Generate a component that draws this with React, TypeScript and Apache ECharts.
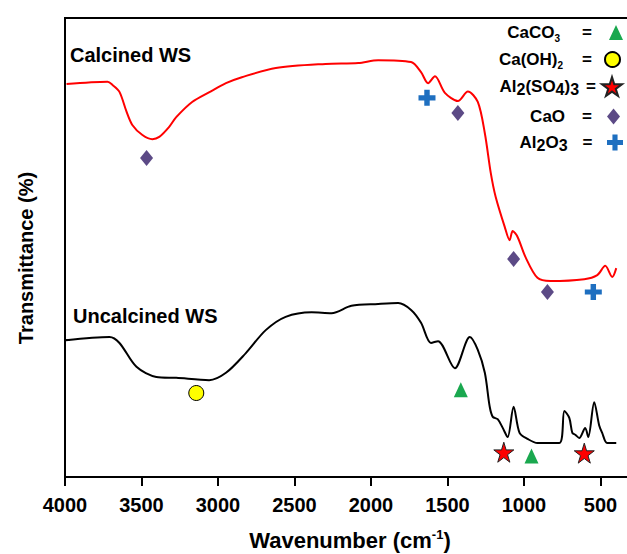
import React, { useEffect, useRef } from 'react';
import * as echarts from 'echarts';

// Calcined WS (red) spectrum
const calcinedWavenumber = [3990, 3722, 3689, 3644, 3599, 3560, 3494, 3429, 3384, 3319, 3273, 3169, 3059, 2948, 2844, 2622, 2297, 2083, 1953, 1738, 1673, 1627, 1582, 1517, 1432, 1367, 1302, 1256, 1217, 1185, 1126, 1094, 1074, 1042, 990, 912, 827, 606, 521, 469, 423, 397];
const calcinedT = [85.6, 86.1, 85.4, 83.9, 79.7, 76.7, 74.5, 73.6, 74.1, 76.3, 78.4, 81.7, 83.8, 85.8, 87.1, 89.1, 90.0, 90.2, 90.8, 90.4, 88.2, 85.8, 87.3, 83.7, 81.9, 84.0, 81.7, 74.9, 66.2, 61.0, 54.5, 51.6, 53.6, 52.3, 47.9, 43.4, 42.7, 43.1, 44.0, 46.0, 43.6, 45.5];

// Uncalcined WS (black) spectrum
const uncalcinedWavenumber = [3995, 3709, 3644, 3533, 3403, 3273, 3058, 2948, 2818, 2688, 2558, 2388, 2258, 2128, 1953, 1822, 1738, 1673, 1608, 1562, 1452, 1354, 1302, 1256, 1224, 1204, 1172, 1139, 1107, 1068, 1029, 977, 912, 769, 736, 704, 684, 665, 639, 600, 580, 541, 509, 489, 457, 397];
const uncalcinedT = [29.8, 30.5, 29.2, 24.0, 21.8, 21.6, 21.1, 22.7, 27.0, 32.0, 34.9, 35.9, 35.7, 37.3, 37.7, 37.9, 36.4, 33.6, 29.2, 29.6, 23.7, 30.5, 27.7, 22.7, 15.3, 13.1, 12.6, 10.7, 8.7, 15.3, 9.6, 8.3, 7.4, 7.4, 14.4, 12.9, 9.6, 9.2, 8.5, 10.7, 8.7, 16.3, 11.3, 9.6, 7.4, 7.4];

// Peak assignment markers
const caco3Points = [[1413, 19.0], [951, 4.6]];
const caoh2Points = [[3142, 18.3]];
const al2so43Points = [[1132, 5.4], [606, 5.2]];
const caoPoints = [[3467, 69.5], [1432, 79.3], [1068, 47.5], [847, 40.3]];
const al2o3Points = [[1634, 82.6], [547, 40.3]];

const xTicks = [4000, 3500, 3000, 2500, 2000, 1500, 1000, 500];

const FONT = '"Liberation Sans", Arial, Helvetica, sans-serif';
const STAR = 'path://M50,0 L61,35 L98,35 L68,57 L79,91 L50,70 L21,91 L32,57 L2,35 L39,35 Z';
const PLUS = 'path://M34,0 H66 V34 H100 V66 H66 V100 H34 V66 H0 V34 H34 Z';

const zip = (xs: number[], ys: number[]) => xs.map((x, i) => [x, ys[i]]);

const legendRich = (padL: number, padR: number) => ({
  t: { fontSize: 17, fontWeight: 'bold', fontFamily: FONT, color: '#000', lineHeight: 22 },
  s: { fontSize: 10, fontWeight: 'bold', fontFamily: FONT, color: '#000', lineHeight: 4, verticalAlign: 'bottom' },
  b: { fontSize: 16, fontWeight: 'bold', fontFamily: FONT, color: '#000', lineHeight: 6, verticalAlign: 'bottom' },
  e: { fontSize: 17, fontWeight: 'bold', fontFamily: FONT, color: '#000', lineHeight: 22, padding: [0, padR, 0, padL] },
});

const makeLegend = (name: string, text: string, padL: number, padR: number, right: number, top: number, w: number, h: number) => ({
  data: [name],
  orient: 'vertical',
  align: 'right',
  right,
  top,
  padding: 0,
  itemWidth: w,
  itemHeight: h,
  itemGap: 0,
  selectedMode: false,
  formatter: () => text,
  textStyle: { rich: legendRich(padL, padR) },
});

export default function App() {
  const ref = useRef<HTMLDivElement>(null);
  useEffect(() => {
    if (!ref.current) return;
    const chart = echarts.init(ref.current, undefined, { renderer: 'svg' });
    const option: any = {
      animation: false,
      grid: { left: 65, top: 18, right: 0, bottom: 77, show: true, borderColor: '#000', borderWidth: 2 },
      xAxis: {
        type: 'value',
        min: 0,
        max: 4000,
        interval: 500,
        inverse: true,
        axisLine: { lineStyle: { color: '#000', width: 2 } },
        axisTick: { length: 9, lineStyle: { color: '#000', width: 2 } },
        axisLabel: {
          color: '#000', fontSize: 20, fontWeight: 'bold', fontFamily: FONT, margin: 18,
          formatter: (v: number) => (xTicks.includes(v) ? String(v) : ''),
        },
        splitLine: { show: false },
      },
      yAxis: {
        type: 'value',
        min: 0,
        max: 100,
        position: 'left',
        axisLine: { show: true, onZero: false, lineStyle: { color: '#000', width: 2 } },
        axisTick: { show: true, inside: true, length: 5, customValues: [30], lineStyle: { color: '#000', width: 1.5 } },
        axisLabel: { show: false },
        splitLine: { show: false },
      },
      legend: [
        makeLegend('CaCO3', '{t|CaCO}{s|3}{e|=}', 22, 12, 57, 24, 14, 15),
        makeLegend('Ca(OH)2', '{t|Ca(OH)}{s|2}{e|=}', 19, 8, 59, 51, 15, 15),
        makeLegend('Al2(SO4)3', '{t|Al}{b|2}{t|(SO}{b|4}{t|)}{b|3}{e|=}', 7, 1, 57, 76, 20, 20),
        makeLegend('CaO', '{t|CaO}{e|=}', 17, 10, 60, 108, 13, 16),
        makeLegend('Al2O3', '{t|Al}{b|2}{t|O}{b|3}{e|=}', 15, 9, 57, 134, 17, 16),
      ],
      graphic: [
        { type: 'text', left: 70, top: 45, style: { text: 'Calcined WS', font: `bold 20px ${FONT}`, fill: '#000' } },
        { type: 'text', left: 73, top: 306, style: { text: 'Uncalcined WS', font: `bold 20px ${FONT}`, fill: '#000' } },
        {
          type: 'text', x: 26, y: 258, rotation: Math.PI / 2,
          style: { text: 'Transmittance (%)', font: `bold 20px ${FONT}`, fill: '#000', align: 'center', verticalAlign: 'middle' },
        },
        {
          type: 'text', x: 350, y: 540,
          style: {
            text: '{a|Wavenumber (cm}{b|-1}{a|)}', align: 'center', verticalAlign: 'middle',
            rich: {
              a: { fontSize: 22, fontWeight: 'bold', fontFamily: FONT, fill: '#000', lineHeight: 24 },
              b: { fontSize: 13, fontWeight: 'bold', fontFamily: FONT, fill: '#000', lineHeight: 4, verticalAlign: 'top' },
            },
          },
        },
      ],
      series: [
        {
          name: 'Calcined WS', type: 'line', data: zip(calcinedWavenumber, calcinedT), smooth: 0.3,
          showSymbol: false, lineStyle: { color: '#ff0000', width: 2 }, itemStyle: { color: '#ff0000' }, z: 2,
        },
        {
          name: 'Uncalcined WS', type: 'line', data: zip(uncalcinedWavenumber, uncalcinedT), smooth: 0.3,
          showSymbol: false, lineStyle: { color: '#000', width: 2 }, itemStyle: { color: '#000' }, z: 2,
        },
        { name: 'CaCO3', type: 'scatter', data: caco3Points, symbol: 'triangle', symbolSize: [14, 15], itemStyle: { color: '#1aa84f', opacity: 1 }, z: 3 },
        { name: 'Ca(OH)2', type: 'scatter', data: caoh2Points, symbol: 'circle', symbolSize: 15, itemStyle: { color: '#ffff00', borderColor: '#000', borderWidth: 1, opacity: 1 }, z: 3 },
        { name: 'Al2(SO4)3', type: 'scatter', data: al2so43Points, symbol: STAR, symbolSize: [20, 20], itemStyle: { color: '#ff0000', borderColor: '#222', borderWidth: 1, opacity: 1 }, z: 3 },
        { name: 'CaO', type: 'scatter', data: caoPoints, symbol: 'diamond', symbolSize: [13, 16], itemStyle: { color: '#5c4a86', opacity: 1 }, z: 3 },
        { name: 'Al2O3', type: 'scatter', data: al2o3Points, symbol: PLUS, symbolSize: [17, 16], itemStyle: { color: '#1e6fc0', opacity: 1 }, z: 3 },
      ],
    };
    chart.setOption(option);
    return () => chart.dispose();
  }, []);
  return (
    <div style={{ position: 'absolute', left: 0, top: 0, width: 627, height: 554, overflow: 'hidden' }}>
      <div ref={ref} style={{ width: 680, height: 554 }} />
    </div>
  );
}
